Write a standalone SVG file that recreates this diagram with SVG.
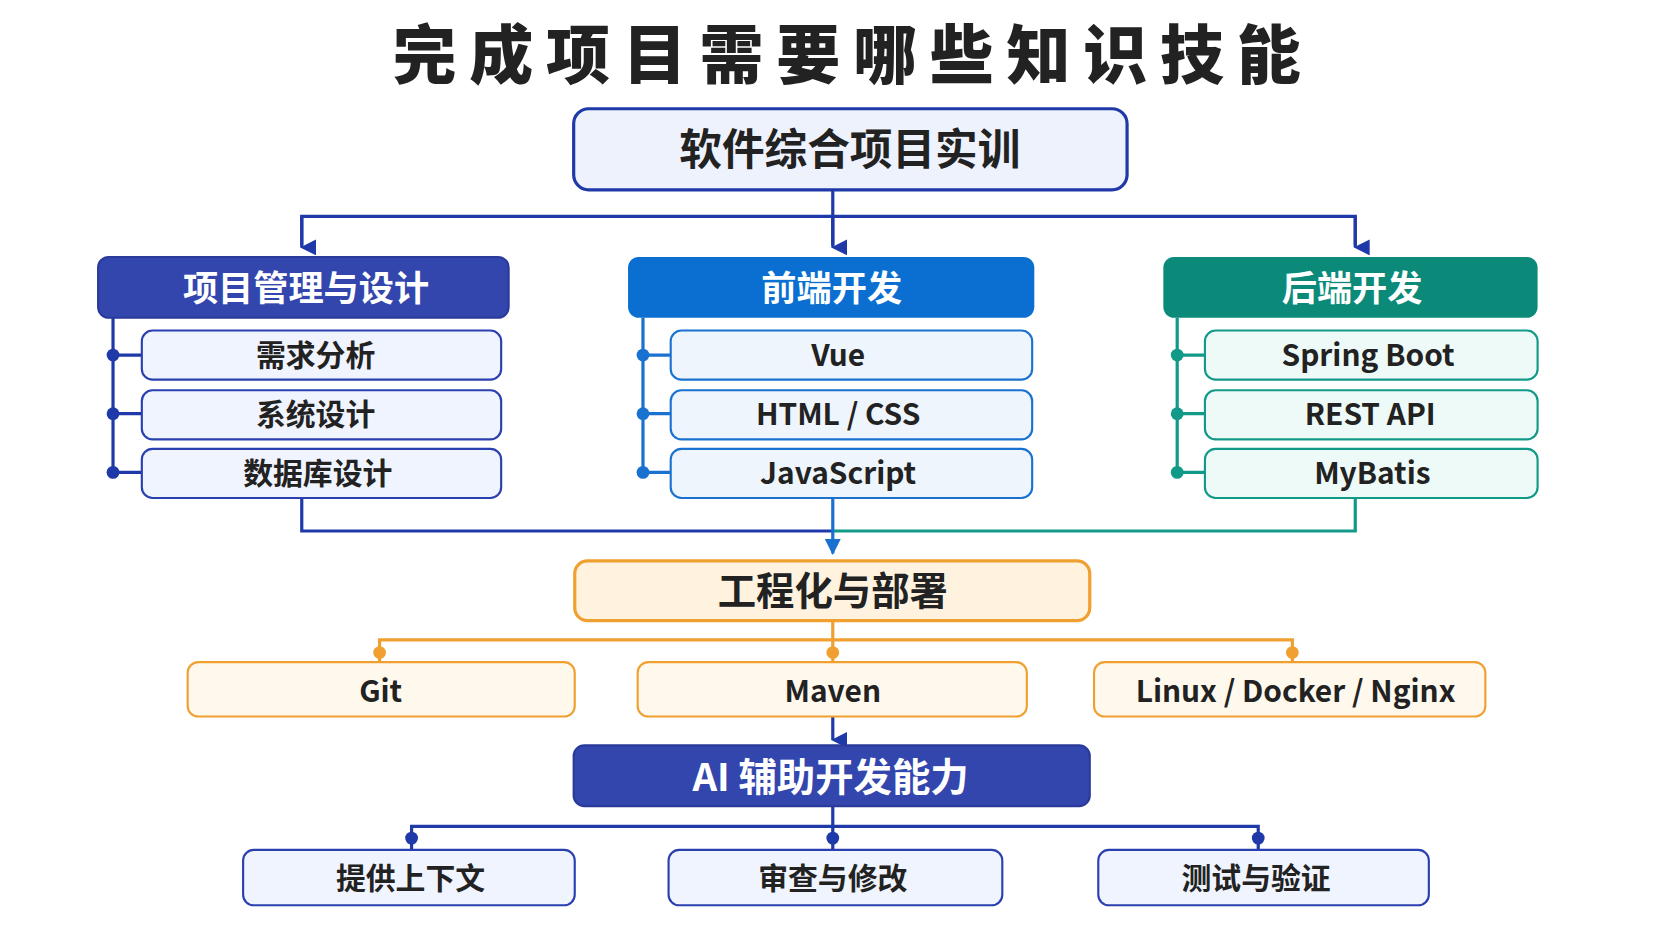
<svg xmlns="http://www.w3.org/2000/svg" width="1672" height="941" viewBox="0 0 1672 941">
<style>
text{font-family:"Noto Sans CJK SC","Noto Sans",sans-serif;font-weight:700;text-anchor:middle;fill:#222}
.w{fill:#fff}
.it{font-size:28px}
.nv{stroke:#1f3aa8;stroke-width:3;fill:none}
.bl{stroke:#1a72d0;stroke-width:3;fill:none}
.tl{stroke:#129a88;stroke-width:3;fill:none}
.or{stroke:#f0a030;stroke-width:3;fill:none}
.ib{fill:#f0f4fe;stroke:#2a3fb0;stroke-width:2}
.im{fill:#eef5fd;stroke:#1a72d0;stroke-width:2}
.ir{fill:#eefaf7;stroke:#129a88;stroke-width:2}
.io{fill:#fff8ec;stroke:#f0a030;stroke-width:2}
</style>
<defs>
<marker id="an" viewBox="0 0 10 10" refX="5" refY="9" markerWidth="5" markerHeight="5" orient="auto-start-reverse" markerUnits="strokeWidth"><path d="M0,0 L10,0 L5,10 z" fill="#1f3aa8"/></marker>
<marker id="ab" viewBox="0 0 10 10" refX="5" refY="9" markerWidth="5" markerHeight="5" markerUnits="strokeWidth"><path d="M0,0 L10,0 L5,10 z" fill="#1a72d0"/></marker>
</defs>
<rect width="1672" height="941" fill="#fff"/>
<g transform="scale(1.0663)">
<text x="800" y="73" style="font-size:60px;font-weight:900;letter-spacing:12px" fill="#1a1a1a">完成项目需要哪些知识技能</text>
<g id="connectors">
<path class="nv" d="M781,178 V203 M283,230 V203 H1271 V230 M781,203 V230" />
<path class="nv" d="M283,203 V232" marker-end="url(#an)"/>
<path class="nv" d="M781,203 V232" marker-end="url(#an)"/>
<path class="nv" d="M1271,203 V232" marker-end="url(#an)"/>
<path class="nv" d="M106,298 V443 M106,333 H133 M106,388 H133 M106,443 H133"/>
<path class="bl" d="M603,298 V443 M603,333 H629 M603,388 H629 M603,443 H629"/>
<path class="tl" d="M1104,298 V443 M1104,333 H1130 M1104,388 H1130 M1104,443 H1130"/>
<g fill="#1f3aa8"><circle cx="106" cy="333" r="6"/><circle cx="106" cy="388" r="6"/><circle cx="106" cy="443" r="6"/></g>
<g fill="#1a72d0"><circle cx="603" cy="333" r="6"/><circle cx="603" cy="388" r="6"/><circle cx="603" cy="443" r="6"/></g>
<g fill="#129a88"><circle cx="1104" cy="333" r="6"/><circle cx="1104" cy="388" r="6"/><circle cx="1104" cy="443" r="6"/></g>
<path class="nv" d="M283,467 V498 H781"/>
<path class="tl" d="M1271,467 V498 H781"/>
<path class="bl" d="M781,467 V519" marker-end="url(#ab)"/>
<path class="or" d="M781,582 V600 M356,612 V600 H1212 V612 M781,600 V621 M356,612 V621 M1212,612 V621"/>
<g fill="#f0a030"><circle cx="356" cy="612" r="6"/><circle cx="781" cy="612" r="6"/><circle cx="1212" cy="612" r="6"/></g>
<path class="nv" d="M781,672 V694" marker-end="url(#an)"/>
<path class="nv" d="M781,756 V775 M386,797 V775 H1180 V797 M781,775 V797"/>
<g fill="#1f3aa8"><circle cx="386" cy="786" r="6"/><circle cx="781" cy="786" r="6"/><circle cx="1180" cy="786" r="6"/></g>
</g>
<g id="root"><rect x="538" y="102" width="519" height="76" rx="14" fill="#eef2fd" stroke="#1f3aa8" stroke-width="3"/><text x="797" y="155" style="font-size:40px">软件综合项目实训</text></g>
<g id="pm"><rect x="92" y="241" width="385" height="57" rx="10" fill="#3346ad" stroke="#2a3a9a" stroke-width="2"/><text class="w" x="287" y="282" style="font-size:33px">项目管理与设计</text></g>
<g id="fe"><rect x="589" y="241" width="381" height="57" rx="10" fill="#0a6fd0"/><text class="w" x="780" y="282" style="font-size:33px">前端开发</text></g>
<g id="be"><rect x="1091" y="241" width="351" height="57" rx="10" fill="#0b8a7a"/><text class="w" x="1268" y="282" style="font-size:33px">后端开发</text></g>
<g id="pm1"><rect class="ib" x="133" y="310" width="337" height="46" rx="10"/><text class="it" x="296" y="343">需求分析</text></g>
<g id="pm2"><rect class="ib" x="133" y="366" width="337" height="46" rx="10"/><text class="it" x="296" y="399">系统设计</text></g>
<g id="pm3"><rect class="ib" x="133" y="421" width="337" height="46" rx="10"/><text class="it" x="298" y="454">数据库设计</text></g>
<g id="fe1"><rect class="im" x="629" y="310" width="339" height="46" rx="10"/><text class="it" x="786" y="343">Vue</text></g>
<g id="fe2"><rect class="im" x="629" y="366" width="339" height="46" rx="10"/><text class="it" x="786" y="399">HTML / CSS</text></g>
<g id="fe3"><rect class="im" x="629" y="421" width="339" height="46" rx="10"/><text class="it" x="786" y="454">JavaScript</text></g>
<g id="be1"><rect class="ir" x="1130" y="310" width="312" height="46" rx="10"/><text class="it" x="1283" y="343">Spring Boot</text></g>
<g id="be2"><rect class="ir" x="1130" y="366" width="312" height="46" rx="10"/><text class="it" x="1285" y="399">REST API</text></g>
<g id="be3"><rect class="ir" x="1130" y="421" width="312" height="46" rx="10"/><text class="it" x="1287" y="454">MyBatis</text></g>
<g id="eng"><rect x="539" y="526" width="483" height="56" rx="12" fill="#fff3e0" stroke="#f0a030" stroke-width="3"/><text x="781" y="567" style="font-size:36px">工程化与部署</text></g>
<g id="git"><rect class="io" x="176" y="621" width="363" height="51" rx="10"/><text class="it" x="357" y="658">Git</text></g>
<g id="maven"><rect class="io" x="598" y="621" width="365" height="51" rx="10"/><text class="it" x="781" y="658">Maven</text></g>
<g id="linux"><rect class="io" x="1026" y="621" width="367" height="51" rx="10"/><text class="it" x="1215" y="658">Linux / Docker / Nginx</text></g>
<g id="ai"><rect x="538" y="699" width="484" height="57" rx="10" fill="#3346ad" stroke="#2a3a9a" stroke-width="2"/><text class="w" x="779" y="742" style="font-size:36px">AI  辅助开发能力</text></g>
<g id="ai1"><rect class="ib" x="228" y="797" width="311" height="52" rx="10"/><text class="it" x="385" y="834">提供上下文</text></g>
<g id="ai2"><rect class="ib" x="627" y="797" width="313" height="52" rx="10"/><text class="it" x="781" y="834">审查与修改</text></g>
<g id="ai3"><rect class="ib" x="1030" y="797" width="310" height="52" rx="10"/><text class="it" x="1178" y="834">测试与验证</text></g>
</g>
</svg>
